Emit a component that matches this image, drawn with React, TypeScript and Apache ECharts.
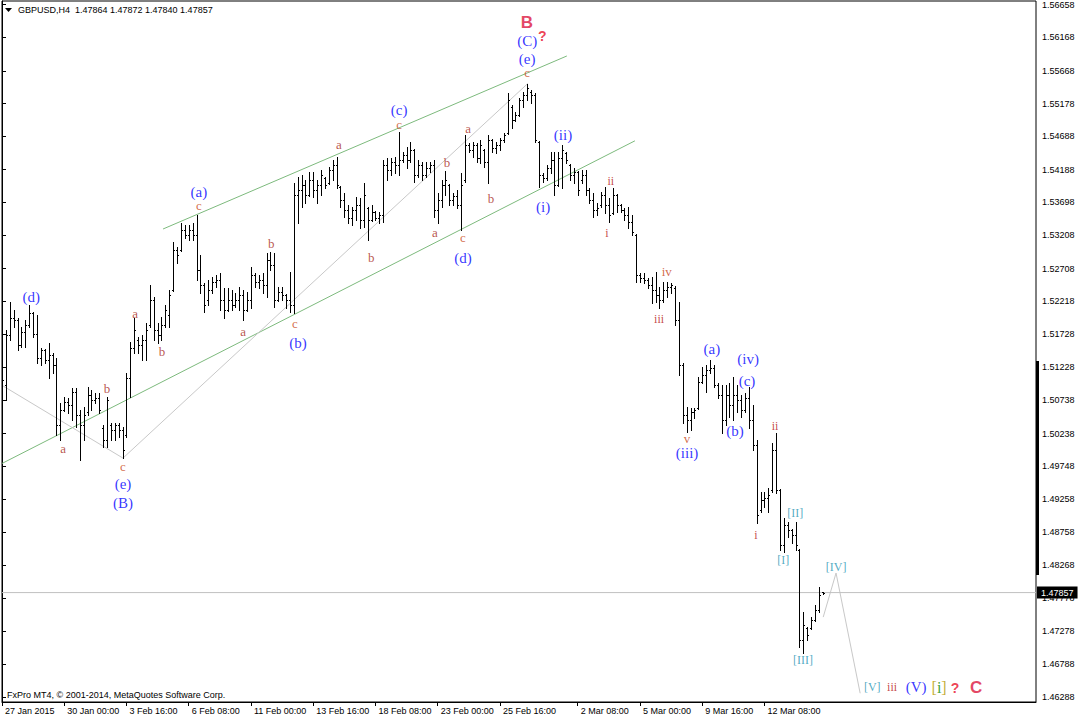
import React, { useEffect, useRef } from "react";
import * as echarts from "echarts";

// ---------- axis ticks ----------
const xTickIdx = [0, 16, 32, 48, 64, 80, 96, 112, 128, 148, 164, 180, 196];
const xTickText = [
  "27 Jan 2015", "30 Jan 00:00", "3 Feb 16:00", "6 Feb 08:00", "11 Feb 00:00",
  "13 Feb 16:00", "18 Feb 08:00", "23 Feb 00:00", "25 Feb 16:00", "2 Mar 08:00",
  "5 Mar 00:00", "9 Mar 16:00", "12 Mar 08:00",
];
const yTicks = [
  1.56658, 1.56168, 1.55668, 1.55178, 1.54688, 1.54188, 1.53698, 1.53208, 1.52708,
  1.52218, 1.51728, 1.51228, 1.50738, 1.50238, 1.49748, 1.49258, 1.48758, 1.48268,
  1.47778, 1.47278, 1.46788, 1.46288,
];
const lastPrice = 1.47857;
const headerText = "GBPUSD,H4  1.47864 1.47872 1.47840 1.47857";
const footerText = "FxPro MT4, \u00A9 2001-2014, MetaQuotes Software Corp.";

// ---------- H4 bars [open, high, low, close] ----------
const barsLateJan = [
  [1.5067, 1.5114, 1.5055, 1.5104], [1.5097, 1.5179, 1.5074, 1.5171], [1.5171, 1.5221, 1.5164, 1.5197],
  [1.5197, 1.5209, 1.5183, 1.5194], [1.5194, 1.5197, 1.5149, 1.5156], [1.5156, 1.5183, 1.5153, 1.5176],
  [1.5176, 1.5194, 1.5153, 1.5186], [1.5186, 1.5216, 1.5183, 1.5204], [1.5204, 1.5206, 1.5168, 1.5173],
  [1.5173, 1.5201, 1.5129, 1.5137], [1.5137, 1.5152, 1.5126, 1.5149], [1.5149, 1.5151, 1.5129, 1.5134],
  [1.5134, 1.5159, 1.5107, 1.5141], [1.5141, 1.5144, 1.5114, 1.5126], [1.5126, 1.5137, 1.5022, 1.5037],
  [1.5037, 1.5070, 1.5014, 1.5059], [1.5059, 1.5079, 1.5057, 1.5071], [1.5071, 1.5077, 1.5055, 1.5067],
  [1.5067, 1.5092, 1.5044, 1.5086], [1.5086, 1.5092, 1.5034, 1.5052], [1.5052, 1.5059, 1.4984, 1.5037],
  [1.5037, 1.5064, 1.5014, 1.5052], [1.5056, 1.5094, 1.5052, 1.5082], [1.5082, 1.5089, 1.5059, 1.5074],
  [1.5074, 1.5085, 1.5070, 1.5077], [1.5077, 1.5085, 1.5055, 1.5059], [1.5032, 1.5037, 1.5004, 1.5014],
  [1.5014, 1.5079, 1.5004, 1.5074], [1.5037, 1.5040, 1.5014, 1.5029], [1.5029, 1.5040, 1.5014, 1.5037],
  [1.5037, 1.5040, 1.5019, 1.5029], [1.5029, 1.5034, 1.4987, 1.4999], [1.5022, 1.5114, 1.5019, 1.5107],
  [1.5107, 1.5161, 1.5079, 1.5152], [1.5152, 1.5197, 1.5144, 1.5179], [1.5164, 1.5168, 1.5144, 1.5156],
  [1.5156, 1.5171, 1.5134, 1.5164], [1.5164, 1.5189, 1.5134, 1.5179], [1.5186, 1.5246, 1.5183, 1.5224],
  [1.5224, 1.5228, 1.5164, 1.5179], [1.5179, 1.5189, 1.5159, 1.5171], [1.5171, 1.5198, 1.5164, 1.5186],
  [1.5186, 1.5216, 1.5183, 1.5209], [1.5201, 1.5239, 1.5183, 1.5231], [1.5239, 1.5311, 1.5237, 1.5299],
  [1.5299, 1.5303, 1.5279, 1.5291], [1.5299, 1.5339, 1.5297, 1.5329], [1.5329, 1.5336, 1.5317, 1.5321],
  [1.5321, 1.5336, 1.5314, 1.5329], [1.5329, 1.5339, 1.5314, 1.5321], [1.5321, 1.5351, 1.5254, 1.5269],
  [1.5269, 1.5291, 1.5234, 1.5246], [1.5246, 1.5249, 1.5206, 1.5216], [1.5224, 1.5254, 1.5216, 1.5239],
  [1.5239, 1.5258, 1.5234, 1.5251], [1.5251, 1.5261, 1.5243, 1.5254], [1.5254, 1.5264, 1.5209, 1.5224],
  [1.5224, 1.5242, 1.5197, 1.5209], [1.5209, 1.5242, 1.5207, 1.5224], [1.5224, 1.5239, 1.5209, 1.5216],
  [1.5216, 1.5234, 1.5213, 1.5224], [1.5224, 1.5243, 1.5209, 1.5231], [1.5231, 1.5239, 1.5194, 1.5209],
  [1.5209, 1.5236, 1.5207, 1.5224], [1.5224, 1.5273, 1.5212, 1.5261], [1.5261, 1.5264, 1.5243, 1.5251],
  [1.5251, 1.5261, 1.5242, 1.5254], [1.5254, 1.5264, 1.5234, 1.5246], [1.5246, 1.5294, 1.5228, 1.5284],
  [1.5284, 1.5296, 1.5269, 1.5276], [1.5276, 1.5294, 1.5213, 1.5224], [1.5224, 1.5243, 1.5222, 1.5236],
  [1.5236, 1.5243, 1.5224, 1.5231], [1.5231, 1.5233, 1.5212, 1.5224], [1.5224, 1.5266, 1.5206, 1.5216],
  [1.5216, 1.5399, 1.5204, 1.5381],
];
const barsFeb = [
  [1.5381, 1.5408, 1.5339, 1.5388], [1.5388, 1.5411, 1.5363, 1.5396], [1.5396, 1.5403, 1.5369, 1.5381],
  [1.5381, 1.5415, 1.5379, 1.5403], [1.5403, 1.5415, 1.5378, 1.5388], [1.5388, 1.5403, 1.5369, 1.5396],
  [1.5396, 1.5418, 1.5381, 1.5411], [1.5406, 1.5408, 1.5391, 1.5396], [1.5399, 1.5423, 1.5397, 1.5418],
  [1.5418, 1.5433, 1.5403, 1.5426], [1.5426, 1.5438, 1.5391, 1.5396], [1.5393, 1.5395, 1.5363, 1.5373],
  [1.5373, 1.5384, 1.5348, 1.5358], [1.5358, 1.5366, 1.5339, 1.5347], [1.5347, 1.5363, 1.5336, 1.5358],
  [1.5358, 1.5378, 1.5344, 1.5366], [1.5366, 1.5376, 1.5332, 1.5344], [1.5344, 1.5399, 1.5333, 1.5381],
  [1.5361, 1.5363, 1.5314, 1.5344], [1.5344, 1.5366, 1.5342, 1.5355], [1.5355, 1.5357, 1.5344, 1.5347],
  [1.5347, 1.5355, 1.5339, 1.5351], [1.5351, 1.5433, 1.5341, 1.5426], [1.5426, 1.5436, 1.5403, 1.5418],
  [1.5418, 1.5436, 1.5411, 1.5430], [1.5430, 1.5438, 1.5414, 1.5426], [1.5426, 1.5475, 1.5411, 1.5433],
  [1.5433, 1.5445, 1.5430, 1.5441], [1.5441, 1.5453, 1.5421, 1.5433], [1.5433, 1.5460, 1.5431, 1.5448],
  [1.5448, 1.5450, 1.5400, 1.5411], [1.5411, 1.5433, 1.5408, 1.5426], [1.5426, 1.5430, 1.5403, 1.5411],
  [1.5411, 1.5430, 1.5408, 1.5421], [1.5421, 1.5430, 1.5415, 1.5426], [1.5426, 1.5433, 1.5348, 1.5358],
  [1.5358, 1.5384, 1.5339, 1.5373], [1.5373, 1.5403, 1.5363, 1.5396], [1.5396, 1.5417, 1.5381, 1.5403],
  [1.5396, 1.5398, 1.5366, 1.5373], [1.5373, 1.5384, 1.5366, 1.5379], [1.5379, 1.5388, 1.5361, 1.5366],
  [1.5366, 1.5414, 1.5329, 1.5396], [1.5403, 1.5471, 1.5400, 1.5456], [1.5456, 1.5458, 1.5445, 1.5448],
  [1.5448, 1.5460, 1.5438, 1.5456], [1.5456, 1.5458, 1.5430, 1.5436], [1.5436, 1.5463, 1.5429, 1.5456],
  [1.5448, 1.5450, 1.5423, 1.5430], [1.5430, 1.5471, 1.5399, 1.5463], [1.5463, 1.5465, 1.5445, 1.5451],
  [1.5451, 1.5460, 1.5444, 1.5456], [1.5456, 1.5466, 1.5448, 1.5463], [1.5463, 1.5474, 1.5460, 1.5471],
  [1.5474, 1.5534, 1.5472, 1.5523], [1.5513, 1.5516, 1.5481, 1.5493], [1.5493, 1.5505, 1.5491, 1.5501],
  [1.5501, 1.5526, 1.5499, 1.5523], [1.5523, 1.5535, 1.5513, 1.5531], [1.5531, 1.5547, 1.5523, 1.5541],
  [1.5535, 1.5538, 1.5519, 1.5531], [1.5531, 1.5534, 1.5460, 1.5463], [1.5460, 1.5462, 1.5393, 1.5411],
  [1.5411, 1.5414, 1.5400, 1.5406], [1.5406, 1.5426, 1.5403, 1.5421], [1.5421, 1.5445, 1.5414, 1.5433],
  [1.5433, 1.5445, 1.5381, 1.5396], [1.5396, 1.5445, 1.5394, 1.5436], [1.5436, 1.5456, 1.5391, 1.5448],
  [1.5444, 1.5446, 1.5429, 1.5433], [1.5426, 1.5428, 1.5403, 1.5411], [1.5411, 1.5421, 1.5399, 1.5415],
  [1.5415, 1.5417, 1.5381, 1.5388],
];
const barsMar = [
  [1.5403, 1.5418, 1.5399, 1.5411], [1.5411, 1.5418, 1.5381, 1.5388], [1.5388, 1.5391, 1.5369, 1.5373],
  [1.5373, 1.5384, 1.5348, 1.5358], [1.5358, 1.5369, 1.5351, 1.5361], [1.5366, 1.5385, 1.5363, 1.5381],
  [1.5381, 1.5393, 1.5354, 1.5366], [1.5366, 1.5376, 1.5341, 1.5351], [1.5354, 1.5391, 1.5352, 1.5381],
  [1.5381, 1.5383, 1.5355, 1.5366], [1.5366, 1.5368, 1.5355, 1.5358], [1.5358, 1.5361, 1.5344, 1.5351],
  [1.5351, 1.5363, 1.5332, 1.5341], [1.5341, 1.5351, 1.5321, 1.5326], [1.5321, 1.5323, 1.5251, 1.5261],
  [1.5261, 1.5264, 1.5251, 1.5257], [1.5257, 1.5264, 1.5249, 1.5254], [1.5254, 1.5257, 1.5242, 1.5246],
  [1.5246, 1.5258, 1.5219, 1.5239], [1.5239, 1.5266, 1.5221, 1.5231], [1.5231, 1.5243, 1.5212, 1.5224],
  [1.5224, 1.5251, 1.5221, 1.5239], [1.5239, 1.5251, 1.5228, 1.5243], [1.5243, 1.5249, 1.5234, 1.5246],
  [1.5242, 1.5244, 1.5186, 1.5194], [1.5194, 1.5221, 1.5111, 1.5126], [1.5126, 1.5129, 1.5040, 1.5052],
  [1.5052, 1.5064, 1.5026, 1.5044], [1.5044, 1.5062, 1.5029, 1.5056], [1.5056, 1.5062, 1.5047, 1.5059],
  [1.5062, 1.5108, 1.5060, 1.5101], [1.5101, 1.5123, 1.5099, 1.5111], [1.5111, 1.5126, 1.5086, 1.5119],
  [1.5119, 1.5134, 1.5114, 1.5122], [1.5122, 1.5126, 1.5094, 1.5097], [1.5097, 1.5099, 1.5077, 1.5082],
  [1.5082, 1.5097, 1.5025, 1.5044], [1.5044, 1.5097, 1.5037, 1.5082], [1.5082, 1.5099, 1.5049, 1.5067],
  [1.5067, 1.5108, 1.5044, 1.5082], [1.5082, 1.5097, 1.5056, 1.5074], [1.5074, 1.5082, 1.5049, 1.5059],
  [1.5059, 1.5085, 1.5056, 1.5077], [1.5077, 1.5094, 1.5032, 1.5044], [1.5044, 1.5067, 1.4999, 1.5007],
  [1.5007, 1.5014, 1.4890, 1.4902], [1.4909, 1.4936, 1.4907, 1.4924], [1.4924, 1.4936, 1.4914, 1.4927],
  [1.4927, 1.4942, 1.4906, 1.4932], [1.4939, 1.5010, 1.4936, 1.4999], [1.4999, 1.5025, 1.4935, 1.4939],
  [1.4939, 1.4941, 1.4849, 1.4857], [1.4857, 1.4897, 1.4846, 1.4887], [1.4887, 1.4891, 1.4869, 1.4879],
  [1.4879, 1.4881, 1.4860, 1.4872], [1.4872, 1.4891, 1.4849, 1.4857], [1.4849, 1.4851, 1.4704, 1.4715],
  [1.4715, 1.4757, 1.4695, 1.4737], [1.4733, 1.4734, 1.4715, 1.4722], [1.4733, 1.4749, 1.4731, 1.4745],
  [1.4745, 1.4767, 1.4743, 1.4760], [1.4760, 1.4794, 1.4757, 1.4782], [1.47864, 1.47872, 1.4784, 1.47857],
];

// ---------- drawn lines (bar index, price) ----------
const upperChannel = [[41.4, 1.533], [145.2, 1.5589]];
const lowerChannel = [[0, 1.4979], [162.7, 1.5462]];
const waveZigzag = [[0, 1.5096], [31.1, 1.4987], [135.2, 1.5548]];
const projection = [[211.1, 1.4749], [214.4, 1.4815], [220.6, 1.4635]];
const priceLine = [[0, lastPrice], [265.8, lastPrice]];

// ---------- wave labels [text, bar index, price, kind] ----------
const waveLabels: [string, number, number, string][] = [
  ["(d)", 7.5, 1.5228, "blue"], ["a", 15.7, 1.5001, "brown"], ["b", 27.0, 1.5091, "brown"],
  ["c", 31.1, 1.4974, "orange"], ["(e)", 31.1, 1.4948, "blue"], ["(B)", 31.1, 1.492, "blue"],
  ["a", 34.2, 1.5204, "brown"], ["b", 41.1, 1.5147, "brown"], ["(a)", 50.6, 1.5386, "blue"],
  ["c", 50.6, 1.5365, "orange"], ["a", 62.0, 1.5177, "brown"], ["b", 69.2, 1.5309, "brown"],
  ["c", 75.3, 1.5189, "orange"], ["(b)", 76.1, 1.5159, "blue"], ["a", 86.6, 1.5456, "brown"],
  ["b", 94.9, 1.5288, "brown"], ["(c)", 102.1, 1.5508, "blue"], ["c", 102.1, 1.5486, "orange"],
  ["a", 111.3, 1.5324, "brown"], ["b", 114.4, 1.5429, "brown"], ["c", 118.5, 1.5318, "orange"],
  ["(d)", 118.5, 1.5287, "blue"], ["a", 119.8, 1.5481, "brown"], ["b", 125.7, 1.5376, "brown"],
  ["B", 134.9, 1.5639, "big"], ["(C)", 135.0, 1.5611, "blue"], ["?", 138.9, 1.5619, "q"],
  ["(e)", 135.0, 1.5584, "blue"], ["c", 135.0, 1.5564, "orange"], ["(i)", 139.1, 1.5363, "blue"],
  ["(ii)", 144.2, 1.5471, "blue"], ["i", 155.5, 1.5324, "red"], ["ii", 156.5, 1.5402, "red"],
  ["iii", 168.9, 1.5195, "red"], ["iv", 170.9, 1.5266, "orange"], ["v", 176.1, 1.5016, "orange"],
  ["(iii)", 176.1, 1.4995, "blue"], ["(a)", 182.5, 1.515, "blue"], ["(b)", 188.4, 1.5028, "blue"],
  ["(iv)", 191.8, 1.5135, "blue"], ["(c)", 191.5, 1.5103, "blue"], ["i", 193.8, 1.4872, "red"],
  ["ii", 198.7, 1.5035, "red"], ["[I]", 200.8, 1.4835, "teal"], ["[II]", 203.9, 1.4905, "teal"],
  ["[III]", 205.9, 1.4685, "teal"], ["[IV]", 214.4, 1.4824, "teal"], ["[V]", 223.7, 1.4644, "teal"],
  ["iii", 228.8, 1.4644, "red"], ["(V)", 235.0, 1.4644, "blue"], ["[i]", 240.9, 1.4644, "green"],
  ["?", 245.0, 1.4643, "q"], ["C", 250.4, 1.4643, "big"],
];

const SERIF = "'Liberation Serif', 'Times New Roman', serif";
const SANS = "'Liberation Sans', Arial, sans-serif";
const labelStyles: Record<string, any> = {
  blue: { color: "#0000FF", fontSize: 15, lineHeight: 12, fontFamily: SERIF },
  brown: { color: "#A82A22", fontSize: 13, lineHeight: 9, fontFamily: SERIF },
  orange: { color: "#C8461A", fontSize: 13, lineHeight: 9, fontFamily: SERIF },
  red: { color: "#B81414", fontSize: 12, lineHeight: 9, fontFamily: SERIF },
  teal: { color: "#2896B4", fontSize: 12, lineHeight: 10, fontFamily: SERIF },
  big: { color: "#DC143C", fontSize: 17, lineHeight: 13, fontFamily: SANS, fontWeight: "bold" },
  q: { color: "#E8102A", fontSize: 14, lineHeight: 11, fontFamily: SANS, fontWeight: "bold" },
  green: {
    fontSize: 16, fontFamily: SERIF, lineHeight: 14,
    rich: {
      br: { color: "#B89A00", fontSize: 16, fontFamily: SERIF, lineHeight: 14 },
      g: { color: "#0A8A00", fontSize: 16, fontFamily: SERIF, lineHeight: 14 },
    },
  },
};

const renderBar = (params: any, api: any) => {
  const i = api.value(0);
  const pO = api.coord([i, api.value(1)]);
  const pH = api.coord([i, api.value(2)]);
  const pL = api.coord([i, api.value(3)]);
  const pC = api.coord([i, api.value(4)]);
  const c = Math.round(pH[0]);
  const x = c + 0.5;
  const yo = Math.round(pO[1]) + 0.5;
  const yc = Math.round(pC[1]) + 0.5;
  const st = { stroke: "#000", lineWidth: 1 };
  return {
    type: "group",
    children: [
      { type: "line", shape: { x1: x, y1: Math.round(pH[1]), x2: x, y2: Math.round(pL[1]) + 1 }, style: st },
      { type: "line", shape: { x1: c - 1, y1: yo, x2: c, y2: yo }, style: st },
      { type: "line", shape: { x1: c + 1, y1: yc, x2: c + 2, y2: yc }, style: st },
    ],
  };
};

export default function App() {
  const ref = useRef<HTMLDivElement>(null);
  useEffect(() => {
    if (!ref.current) return;
    const chart = echarts.init(ref.current, undefined, { renderer: "svg" });
    const bars = [...barsLateJan, ...barsFeb, ...barsMar].map((b, i) => [i, ...b]);
    const labelData = waveLabels.map(([t, i, p, k]) => ({
      value: [i, p],
      label: {
        show: true,
        position: "inside",
        formatter: k === "green" ? "{br|[}{g|i}{br|]}" : t,
        ...labelStyles[k],
      },
    }));
    const lineSeries = (data: number[][], color: string) => ({
      type: "line",
      data,
      symbol: "none",
      silent: true,
      lineStyle: { color, width: 1 },
      z: 1,
    });
    chart.setOption({
      animation: false,
      backgroundColor: "#fff",
      grid: { left: 2, top: 1, right: 44, bottom: 18, show: true, borderColor: "#000", borderWidth: 1, backgroundColor: "#fff" },
      xAxis: {
        type: "value",
        min: 0,
        max: 265.8,
        splitLine: { show: false },
        axisLine: { show: true, lineStyle: { color: "#000", width: 1 } },
        axisTick: { show: true, customValues: xTickIdx, length: 4, lineStyle: { color: "#000" } },
        axisLabel: {
          customValues: xTickIdx,
          formatter: (v: number) => {
            const k = xTickIdx.indexOf(Math.round(v));
            return k >= 0 ? xTickText[k] : "";
          },
          align: "left",
          padding: [0, 0, 0, 3],
          margin: 4,
          color: "#000",
          fontSize: 9,
          fontFamily: SANS,
        },
      },
      yAxis: {
        type: "value",
        position: "right",
        min: 1.46219,
        max: 1.56713,
        splitLine: { show: false },
        axisLine: { show: true, lineStyle: { color: "#000", width: 1 } },
        axisTick: { show: true, customValues: yTicks, length: 4, lineStyle: { color: "#000" } },
        axisLabel: {
          customValues: yTicks,
          formatter: (v: number) => v.toFixed(5),
          margin: 6,
          color: "#000",
          fontSize: 9,
          fontFamily: SANS,
        },
      },
      series: [
        lineSeries(upperChannel, "#7DBA7D"),
        lineSeries(lowerChannel, "#7DBA7D"),
        lineSeries(waveZigzag, "#C8C8C8"),
        lineSeries(projection, "#C8C8C8"),
        {
          type: "line",
          data: priceLine,
          symbol: "none",
          silent: true,
          clip: false,
          lineStyle: { color: "#C0C0C0", width: 1 },
          z: 2,
          endLabel: {
            show: true,
            distance: 1,
            formatter: lastPrice.toFixed(5),
            backgroundColor: "#000",
            color: "#fff",
            padding: [2, 4, 1, 4],
            fontSize: 9,
            fontFamily: SANS,
          },
        },
        {
          type: "custom",
          renderItem: renderBar,
          data: bars,
          encode: { x: 0, y: [1, 2, 3, 4] },
          clip: true,
          silent: true,
          z: 3,
        },
        {
          type: "scatter",
          data: labelData,
          symbol: "circle",
          symbolSize: 0.1,
          itemStyle: { color: "transparent" },
          silent: true,
          z: 5,
        },
      ],
      graphic: [
        { type: "rect", shape: { x: 1036, y: 361, width: 3, height: 214 }, style: { fill: "#000" }, z: 10 },
        { type: "polygon", shape: { points: [[5, 8], [12, 8], [8.5, 12]] }, style: { fill: "#000" }, z: 10 },
        {
          type: "text", x: 18, y: 10, z: 10,
          style: { text: headerText, fill: "#000", fontSize: 9, fontFamily: SANS, verticalAlign: "middle" },
        },
        {
          type: "text", x: 7, y: 695, z: 10,
          style: { text: footerText, fill: "#000", fontSize: 9, fontFamily: SANS, verticalAlign: "middle" },
        },
      ],
    });
    return () => chart.dispose();
  }, []);
  return <div ref={ref} style={{ position: "absolute", left: 0, top: 0, width: 1080, height: 720 }} />;
}
